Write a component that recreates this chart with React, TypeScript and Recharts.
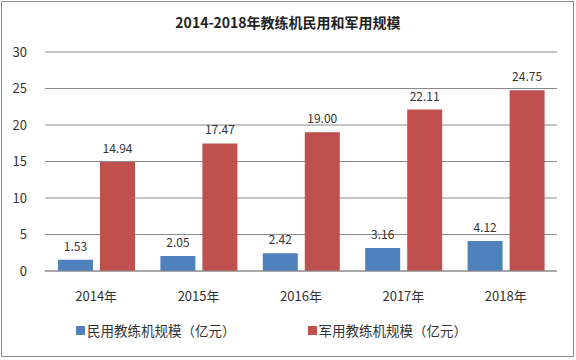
import React from 'react'
import { BarChart, Bar, XAxis, YAxis, CartesianGrid, LabelList } from 'recharts'

const years = ['2014年', '2015年', '2016年', '2017年', '2018年']
const civil = [1.53, 2.05, 2.42, 3.16, 4.12]
const military = [14.94, 17.47, 19.0, 22.11, 24.75]
const yTicks = [0, 5, 10, 15, 20, 25, 30]
const seriesNames = ['民用教练机规模（亿元）', '军用教练机规模（亿元）']
const seriesColors = ['#4F81BD', '#C0504D']

const FONT = '"Noto Sans CJK SC", "Liberation Sans", sans-serif'

export default function App() {
    const data = years.map((y, i) => ({ year: y, civil: civil[i], military: military[i] }))

    return (
        <div style={{ position: 'absolute', left: 0, top: 0, width: 576, height: 360, background: '#fff', fontFamily: FONT }}>
            <div style={{ position: 'absolute', left: 1, top: 1, width: 571, height: 354, border: '1px solid #8c8c8c' }} />
            <div style={{ position: 'absolute', left: 0, top: 12, width: 576, textAlign: 'center', fontSize: 14, fontWeight: 'bold', color: '#222' }}>
                2014-2018年教练机民用和军用规模
            </div>
            <BarChart
                width={576}
                height={360}
                data={data}
                margin={{ top: 52, right: 19, bottom: 49, left: 0 }}
                barSize={35}
                barGap={7}
            >
                <CartesianGrid vertical={false} stroke="#8a8a8a" />
                <XAxis
                    dataKey="year"
                    axisLine={{ stroke: '#8a8a8a' }}
                    tickLine={false}
                    tickMargin={15}
                    height={40}
                    tick={{ fill: '#333', fontSize: 13, fontFamily: FONT }}
                />
                <YAxis
                    domain={[0, 30]}
                    ticks={yTicks}
                    width={45}
                    axisLine={false}
                    tickLine={false}
                    tickMargin={12}
                    tick={{ fill: '#333', fontSize: 13, fontFamily: FONT }}
                />
                <Bar dataKey="civil" name={seriesNames[0]} fill={seriesColors[0]} isAnimationActive={false}>
                    <LabelList dataKey="civil" position="top" offset={9} fill="#333" fontSize={12} formatter={(v: any) => Number(v).toFixed(2)} />
                </Bar>
                <Bar dataKey="military" name={seriesNames[1]} fill={seriesColors[1]} isAnimationActive={false}>
                    <LabelList dataKey="military" position="top" offset={9} fill="#333" fontSize={12} formatter={(v: any) => Number(v).toFixed(2)} />
                </Bar>
            </BarChart>
            {/* legend, kept in series order */}
            <div style={{ position: 'absolute', left: 76, top: 320, display: 'flex', gap: 72, fontSize: 13.5, color: '#333' }}>
                {seriesNames.map((n, i) => (
                    <div key={n} style={{ display: 'flex', alignItems: 'center' }}>
                        <span style={{ display: 'inline-block', width: 9, height: 9, background: seriesColors[i], marginRight: 2 }} />
                        <span>{n}</span>
                    </div>
                ))}
            </div>
        </div>
    )
}
